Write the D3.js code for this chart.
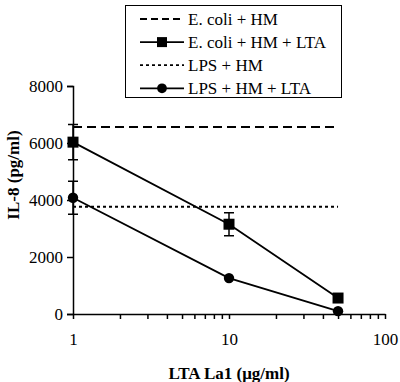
<!DOCTYPE html>
<html>
<head>
<meta charset="utf-8">
<script src="https://cdn.jsdelivr.net/npm/d3@7"></script>
<style>
  body { margin: 0; background: #fff; }
  svg { font-family: "Liberation Serif", "Times New Roman", serif; }
</style>
</head>
<body>
<svg id="chart" width="400" height="382"></svg>
<script>
// data
const doses = [1, 10, 50];
const ecoliLta = [6030, 3150, 560];
const ecoliLtaErr = [620, 400, 0];
const lpsLta = [4080, 1260, 100];
const lpsLtaErr = [580, 0, 0];
const ecoliHm = 6560;
const lpsHm = 3760;
const yTicks = [0, 2000, 4000, 6000, 8000];
const xTicks = [1, 10, 100];
const legendLabels = ["E. coli + HM", "E. coli + HM + LTA", "LPS + HM", "LPS + HM + LTA"];

const svg = d3.select("#chart");
const margin = {left: 73, right: 15, top: 86, bottom: 68};
const width = 400, height = 382;

let x = d3.scaleLog()
    .domain([1, 100])
    .range([margin.left, width - margin.right]);

let y = d3.scaleLinear()
    .domain([0, 8000])
    .range([height - margin.bottom, margin.top]);

// y axis
svg.append("g")
    .attr("transform", `translate(${margin.left},0)`)
    .call(d3.axisLeft(y).tickValues(yTicks).tickSize(6).tickPadding(4).tickFormat(d3.format("d")))
    .call(g => g.selectAll("path").attr("stroke-width", 1.5))
    .call(g => g.selectAll("line").attr("stroke-width", 1.5))
    .call(g => g.selectAll("text").attr("font-size", 17).attr("font-family", "Liberation Serif"));

// x axis, minor ticks every unit in each decade
let minor = [];
for (let d = 1; d < 100; d *= 10) {
    for (let k = 1; k < 10; k++) minor.push(d * k);
}
minor.push(100);

svg.append("g")
    .attr("transform", `translate(0,${y(0)})`)
    .call(d3.axisBottom(x).tickValues(minor).tickSize(5).tickSizeOuter(0).tickFormat(d => xTicks.includes(d) ? d : ""))
    .call(g => g.selectAll("path").attr("stroke-width", 1.5))
    .call(g => g.selectAll("line").attr("stroke-width", 1.5))
    .call(g => g.selectAll("text").attr("font-size", 17).attr("font-family", "Liberation Serif").attr("dy", "1.35em"));

// axis titles
svg.append("text")
    .attr("x", (x(1) + x(100)) / 2)
    .attr("y", 379)
    .attr("text-anchor", "middle")
    .attr("font-size", 17)
    .attr("font-weight", "bold")
    .text("LTA La1 (\u03bcg/ml)");

svg.append("text")
    .attr("transform", "translate(19,175) rotate(-90)")
    .attr("text-anchor", "middle")
    .attr("font-size", 17)
    .attr("font-weight", "bold")
    .text("IL-8 (pg/ml)");

// reference lines
svg.append("line")
    .attr("x1", x(1)).attr("x2", x(50))
    .attr("y1", y(ecoliHm)).attr("y2", y(ecoliHm))
    .attr("stroke", "#000").attr("stroke-width", 2)
    .attr("stroke-dasharray", "9,5");

svg.append("line")
    .attr("x1", x(1)).attr("x2", x(50))
    .attr("y1", y(lpsHm)).attr("y2", y(lpsHm))
    .attr("stroke", "#000").attr("stroke-width", 2)
    .attr("stroke-dasharray", "3,3");

let line = d3.line()
    .x(d => x(d[0]))
    .y(d => y(d[1]));

function drawSeries(values, errs, shape) {
    let pts = doses.map((d, i) => [d, values[i], errs[i]]);
    let g = svg.append("g");
    // error bars
    g.selectAll(".err")
        .data(pts.filter(d => d[2] > 0))
        .join("path")
        .attr("d", d => {
            let cx = x(d[0]), hi = y(d[1] + d[2]), lo = y(d[1] - d[2]);
            return `M${cx - 5},${hi}H${cx + 5}M${cx},${hi}V${lo}M${cx - 5},${lo}H${cx + 5}`;
        })
        .attr("stroke", "#000").attr("stroke-width", 1.5).attr("fill", "none");
    g.append("path")
        .datum(pts)
        .attr("d", line)
        .attr("stroke", "#000").attr("stroke-width", 1.8).attr("fill", "none");
    g.selectAll(".mark")
        .data(pts)
        .join("path")
        .attr("transform", d => `translate(${x(d[0])},${y(d[1])})`)
        .attr("d", d3.symbol().type(shape).size(shape === d3.symbolSquare ? 121 : 85))
        .attr("fill", "#000");
}

drawSeries(ecoliLta, ecoliLtaErr, d3.symbolSquare);
drawSeries(lpsLta, lpsLtaErr, d3.symbolCircle);

// legend
let legend = svg.append("g");
legend.append("rect")
    .attr("x", 125.5).attr("y", 5.5)
    .attr("width", 216).attr("height", 92)
    .attr("fill", "#fff").attr("stroke", "#000").attr("stroke-width", 1);

let legendItems = [
    {label: legendLabels[0], dash: "7,4", mark: null},
    {label: legendLabels[1], dash: null, mark: d3.symbolSquare},
    {label: legendLabels[2], dash: "3,3", mark: null},
    {label: legendLabels[3], dash: null, mark: d3.symbolCircle}
];

legendItems.forEach((item, i) => {
    let ly = 19 + i * 23.1;
    legend.append("line")
        .attr("x1", 140).attr("x2", 184)
        .attr("y1", ly).attr("y2", ly)
        .attr("stroke", "#000").attr("stroke-width", 1.8)
        .attr("stroke-dasharray", item.dash);
    if (item.mark) {
        legend.append("path")
            .attr("transform", `translate(162,${ly})`)
            .attr("d", d3.symbol().type(item.mark).size(item.mark === d3.symbolSquare ? 100 : 75))
            .attr("fill", "#000");
    }
    legend.append("text")
        .attr("x", 188).attr("y", ly)
        .attr("dy", "0.35em")
        .attr("font-size", 17)
        .text(item.label);
});
</script>
</body>
</html>
